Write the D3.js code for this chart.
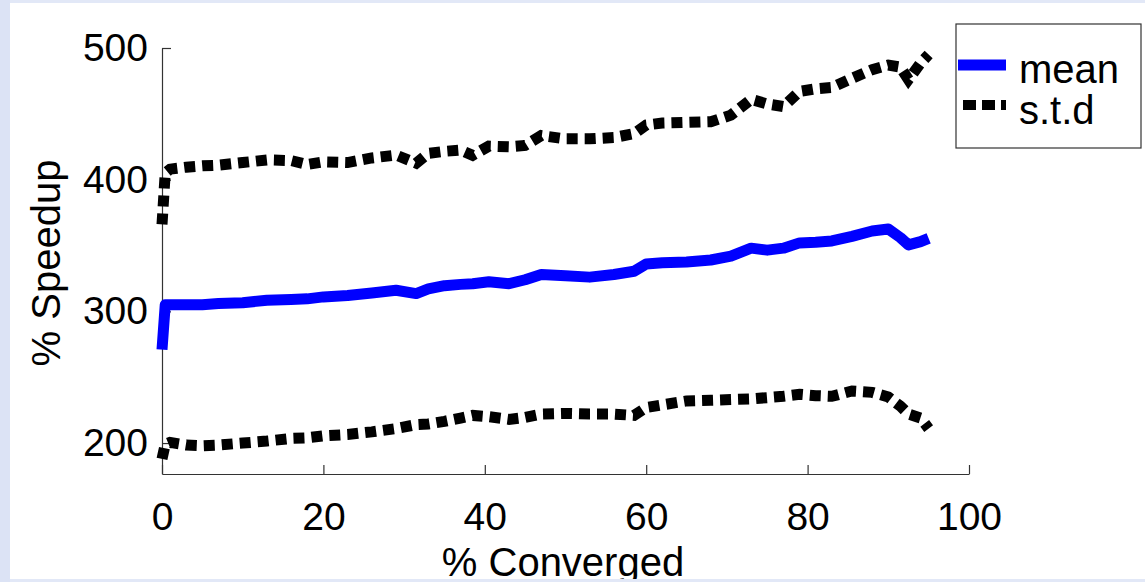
<!DOCTYPE html>
<html>
<head>
<meta charset="utf-8">
<script src="https://cdn.jsdelivr.net/npm/d3@7"></script>
<style>
  body { margin: 0; background: #e2e8f7; }
  text { font-family: "Liberation Sans", Arial, sans-serif; }
</style>
</head>
<body>
<div id="chart"></div>
<script>
let width = 1145, height = 582;

// % converged (x positions shared by all three series)
let converged = [0, 0.4, 1, 3, 5, 7, 10, 13, 16, 18, 20, 23, 26, 29, 31.5, 33, 35, 37, 38.5, 40.5,
    43, 45, 47, 50, 53, 56, 58.5, 60, 62, 65, 68, 70.5, 73, 75, 77, 79, 81, 83, 85.5, 88,
    90, 91.5, 92.5, 94, 95];
let meanSpeedup = [271, 305, 305, 305, 305, 306, 306.5, 308.5, 309, 309.5, 311, 312, 314, 316, 313.5, 317, 319.5, 320.5, 321, 322.5,
    321, 324, 328, 327, 326, 328, 330.5, 336, 337, 337.5, 339, 342, 348, 346.5, 348, 352, 352.5, 353.5, 357, 361,
    362.5, 356, 350.5, 353, 355.5];
let stdUpper = [366, 405, 408, 409.5, 410.5, 411, 413, 415, 414.5, 411.5, 413.5, 413, 416.5, 418.7, 412.5, 420, 421.5, 422.5, 418.5, 425.5,
    425, 426, 433.5, 431, 431, 432, 435, 441.5, 443, 443.5, 444, 449, 461, 457.5, 455.5, 467, 469, 470, 477, 483.5,
    487, 485.5, 476, 488.5, 495];
let stdLower = [188, 199, 200.5, 198.5, 198, 198.5, 200, 201.5, 203.5, 204, 205.5, 206.5, 208.5, 211, 214, 214.5, 216.5, 219, 221, 220,
    218, 219.5, 222, 222.5, 222, 222, 221, 227, 229, 232, 232.5, 233, 233.5, 234.5, 235.5, 237, 236, 235.5, 239.5, 238.5,
    235, 228, 222, 219, 211];

let xTicks = [0, 20, 40, 60, 80, 100];
let yTicks = [200, 300, 400, 500];
let legendLabels = ["mean", "s.t.d"];

let svg = d3.select("#chart")
    .append("svg")
    .attr("width", width)
    .attr("height", height);

svg.append("rect")
    .attr("x", 10)
    .attr("y", 3)
    .attr("width", width - 10)
    .attr("height", 576)
    .attr("fill", "#ffffff");

let x = d3.scaleLinear()
    .domain([0, 100])
    .range([162, 969]);

let y = d3.scaleLinear()
    .domain([176.5, 500])
    .range([474, 48]);

let xAxis = svg.append("g")
    .attr("transform", `translate(0, ${y(176.5)})`)
    .call(d3.axisBottom(x).tickValues(xTicks).tickSizeInner(-9).tickSizeOuter(0).tickPadding(28));

let yAxis = svg.append("g")
    .attr("transform", `translate(${x(0)}, 0)`)
    .call(d3.axisLeft(y).tickValues(yTicks).tickSizeInner(-9).tickSizeOuter(0).tickPadding(14));

[xAxis, yAxis].forEach(function(ax) {
    ax.selectAll("path, line").attr("stroke", "#333").attr("stroke-width", 1.2);
    ax.selectAll("text")
        .attr("fill", "#000")
        .style("font-size", "39px")
        .style("font-family", "'Liberation Sans', Arial, sans-serif");
});

let line = function(values) {
    return d3.line()
        .x(function(d, i) { return x(converged[i]); })
        .y(function(d) { return y(d); })(values);
};

svg.append("path")
    .attr("d", line(stdUpper))
    .attr("fill", "none")
    .attr("stroke", "#000")
    .attr("stroke-width", 11)
    .attr("stroke-dasharray", "11,7");

svg.append("path")
    .attr("d", line(stdLower))
    .attr("fill", "none")
    .attr("stroke", "#000")
    .attr("stroke-width", 11)
    .attr("stroke-dasharray", "11,7");

svg.append("path")
    .attr("d", line(meanSpeedup))
    .attr("fill", "none")
    .attr("stroke", "#0000ff")
    .attr("stroke-width", 11)
    .attr("stroke-linejoin", "round");

svg.append("text")
    .attr("transform", `translate(60, 263) rotate(-90)`)
    .style("text-anchor", "middle")
    .style("font-size", "40px")
    .text("% Speedup");

svg.append("text")
    .attr("x", 563)
    .attr("y", 576)
    .style("text-anchor", "middle")
    .style("font-size", "40px")
    .text("% Converged");

// legend
let legend = svg.append("g");

legend.append("rect")
    .attr("x", 956)
    .attr("y", 24)
    .attr("width", 185)
    .attr("height", 124)
    .attr("fill", "#fff")
    .attr("stroke", "#333")
    .attr("stroke-width", 1.2);

legend.append("line")
    .attr("x1", 958).attr("x2", 1006)
    .attr("y1", 65).attr("y2", 65)
    .attr("stroke", "#0000ff")
    .attr("stroke-width", 11);

legend.append("line")
    .attr("x1", 963).attr("x2", 1006)
    .attr("y1", 105).attr("y2", 105)
    .attr("stroke", "#000")
    .attr("stroke-width", 10)
    .attr("stroke-dasharray", "13,6");

legend.selectAll("text.lab")
    .data(legendLabels)
    .enter()
    .append("text")
    .attr("class", "lab")
    .attr("x", 1019)
    .attr("y", function(d, i) { return 83 + i * 41; })
    .style("font-size", "40px")
    .text(function(d) { return d; });

// slide border drawn over the bottom and left edges
svg.append("rect")
    .attr("x", 0).attr("y", 579)
    .attr("width", width).attr("height", 3)
    .attr("fill", "#e2e8f7");
svg.append("rect")
    .attr("x", 0).attr("y", 0)
    .attr("width", 10).attr("height", height)
    .attr("fill", "#dce3f5");
</script>
</body>
</html>
